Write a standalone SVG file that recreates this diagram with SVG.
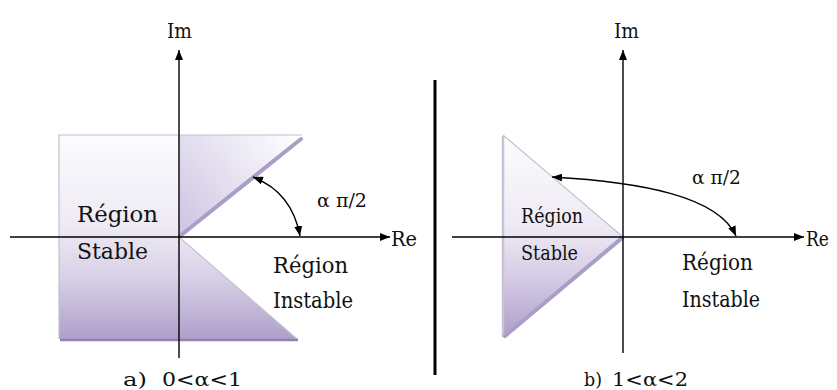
<svg xmlns="http://www.w3.org/2000/svg" width="837" height="390" viewBox="0 0 837 390">
<style>
text{font-family:'DejaVu Serif','Liberation Serif',serif;fill:#111;font-weight:normal;}
.ax{stroke:#000;stroke-width:1.4;fill:none;}
.arc{stroke:#000;stroke-width:1.4;fill:none;}
.edge{stroke:#c4c0cc;stroke-width:1.2;fill:none;}
.band{stroke:#a89ec6;stroke-width:4;fill:none;stroke-linecap:round;}
</style>
<defs>
<linearGradient id="gl" x1="0" y1="135" x2="0" y2="339" gradientUnits="userSpaceOnUse">
<stop offset="0" stop-color="#fcfbfe"/>
<stop offset="0.45" stop-color="#eeeaf4"/>
<stop offset="0.7" stop-color="#d8d0e6"/>
<stop offset="1" stop-color="#ae9fcb"/>
</linearGradient>
<linearGradient id="gr" x1="0" y1="135" x2="0" y2="337" gradientUnits="userSpaceOnUse">
<stop offset="0" stop-color="#fdfcfe"/>
<stop offset="0.45" stop-color="#eeeaf4"/>
<stop offset="0.7" stop-color="#d6cde6"/>
<stop offset="1" stop-color="#ad9ec9"/>
</linearGradient>
<linearGradient id="gw" x1="300" y1="135" x2="185" y2="232" gradientUnits="userSpaceOnUse">
<stop offset="0" stop-color="#ffffff"/>
<stop offset="1" stop-color="#cfc6e4"/>
</linearGradient>
<marker id="ah" viewBox="0 0 10 8" refX="10" refY="4" markerWidth="10" markerHeight="8" markerUnits="userSpaceOnUse" orient="auto-start-reverse">
<path d="M0,0 L10,4 L0,8 z" fill="#000"/>
</marker>
</defs>

<g id="plot-a">
<g id="region-a">
<polygon points="59,135 179,135 179,237 297,339 59,339" fill="url(#gl)"/>
<polygon points="179,135 302,135 179,237" fill="url(#gw)"/>
<polyline class="edge" points="59,339 59,135 302,135"/>
<line class="edge" x1="179" y1="237" x2="297" y2="339"/>
<line class="band" x1="180" y1="236" x2="301" y2="139"/>
<line x1="60" y1="340" x2="298" y2="340" stroke="#8f82ad" stroke-width="2.5"/>
</g>
<text x="167" y="38" font-size="21" textLength="25" lengthAdjust="spacingAndGlyphs">Im</text>
<text x="391" y="246" font-size="21" textLength="26" lengthAdjust="spacingAndGlyphs">Re</text>
<text x="317" y="207" font-size="19" textLength="50" lengthAdjust="spacingAndGlyphs">α π/2</text>
<text x="77" y="222" font-size="23" textLength="81" lengthAdjust="spacingAndGlyphs">Région</text>
<text x="77" y="259" font-size="23" textLength="71" lengthAdjust="spacingAndGlyphs">Stable</text>
<text x="273" y="273" font-size="22" textLength="75" lengthAdjust="spacingAndGlyphs">Région</text>
<text x="273" y="308" font-size="22" textLength="80" lengthAdjust="spacingAndGlyphs">Instable</text>
<text x="123" y="386" font-size="19" textLength="24" lengthAdjust="spacingAndGlyphs">a)</text>
<text x="162" y="386" font-size="19" textLength="80" lengthAdjust="spacingAndGlyphs">0&lt;α&lt;1</text>
</g>

<line id="separator" x1="435" y1="80" x2="435" y2="375" stroke="#000" stroke-width="3"/>

<g id="plot-b">
<g id="region-b">
<polygon points="503,135 623,237 503,337" fill="url(#gr)"/>
<line class="edge" x1="503" y1="135" x2="623" y2="237"/>
<line x1="503" y1="136" x2="503" y2="337" stroke="#c8c2d4" stroke-width="2.5"/>
<line class="band" x1="622" y1="238" x2="505" y2="336"/>
</g>
<text x="614" y="38" font-size="21" textLength="25" lengthAdjust="spacingAndGlyphs">Im</text>
<text x="806" y="246" font-size="20" textLength="23" lengthAdjust="spacingAndGlyphs">Re</text>
<text x="692" y="184" font-size="19" textLength="49" lengthAdjust="spacingAndGlyphs">α π/2</text>
<text x="521" y="223" font-size="21" textLength="62" lengthAdjust="spacingAndGlyphs">Région</text>
<text x="521" y="260" font-size="21" textLength="57" lengthAdjust="spacingAndGlyphs">Stable</text>
<text x="682" y="270" font-size="22" textLength="71" lengthAdjust="spacingAndGlyphs">Région</text>
<text x="682" y="307" font-size="22" textLength="78" lengthAdjust="spacingAndGlyphs">Instable</text>
<text x="584" y="386" font-size="19" textLength="18" lengthAdjust="spacingAndGlyphs">b)</text>
<text x="612" y="386" font-size="19" textLength="76" lengthAdjust="spacingAndGlyphs">1&lt;α&lt;2</text>
</g>

<g id="connectors">
<line class="ax" x1="10" y1="237" x2="390" y2="237" marker-end="url(#ah)"/>
<line class="ax" x1="179" y1="358" x2="179" y2="50" marker-end="url(#ah)"/>
<path class="arc" d="M253,177 Q292,192 300,236" marker-start="url(#ah)" marker-end="url(#ah)"/>
<line class="ax" x1="452" y1="237" x2="804" y2="237" marker-end="url(#ah)"/>
<line class="ax" x1="623" y1="353" x2="623" y2="50" marker-end="url(#ah)"/>
<path class="arc" d="M552,177 C640,182 718,196 736,236" marker-start="url(#ah)" marker-end="url(#ah)"/>
</g>
</svg>
